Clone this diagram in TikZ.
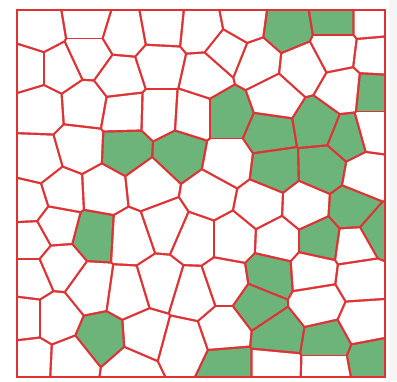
\documentclass[tikz,border=0pt]{standalone}
\usepackage{tikz}
\definecolor{cellred}{HTML}{DE3234}
\definecolor{cellgreen}{HTML}{6DB47B}
\tikzset{
  frame/.style={fill=cellred},
  cellw/.style={fill=white},
  cellg/.style={fill=cellgreen},
}
% sites of the cells: x/y/colour (w = white, g = green)
\newcommand\cellsites{
  40/30/w, 88/22/w, 124/33/w, 162/26/w, 202/30/w, 243/22/w, 227/50/w,
  287/28/g, 335/20/g, 372/20/w, 335/50/w, 375/55/w,
  28/68/w, 60/68/w, 88/55/w, 120/78/w, 160/65/w, 205/75/w, 257/62/w,
  303/67/w, 343/90/w, 373/93/g, 275/98/w, 228/115/g, 270/133/g,
  318/125/g, 348/137/g, 373/130/w,
  40/108/w, 85/105/w, 124/112/w, 160/113/w, 192/115/w,
  38/160/w, 80/148/w, 125/150/g, 180/153/g, 228/162/w, 275/168/g,
  322/167/g, 367/175/w,
  28/203/w, 63/192/w, 103/190/w, 150/185/w, 210/195/w, 260/205/w,
  305/207/w, 353/210/g, 378/232/g,
  30/240/w, 57/225/w, 95/235/g, 130/237/w, 165/225/w, 195/238/w,
  233/238/w, 278/240/w, 320/240/g, 355/245/w,
  30/278/w, 60/265/w, 92/288/w, 127/293/w, 160/283/w, 193/293/w,
  225/282/w, 270/275/g, 313/272/w, 360/278/w,
  25/318/w, 55/318/w, 102/338/g, 145/335/w, 182/345/w, 225/330/w,
  258/305/g, 318/303/w, 363/323/w, 278/335/g, 327/343/g,
  30/360/w, 72/362/w, 130/370/w, 228/367/g, 275/367/w, 327/368/w,
  370/360/g}

\begin{document}
\begin{tikzpicture}[x=1pt,y=-1pt]
  \useasboundingbox (0,0) rectangle (397,381);
  \fill[gray!8] (389,0) rectangle (397,381);
  % red frame, the gaps between the cells stay red
  \fill[frame] (15.8,8.8) rectangle (386.2,378.2);
  \foreach \xi/\yi/\c in \cellsites {
    \begin{scope}
      \clip (18.2,11.2) rectangle (383.8,375.8);
      \foreach \xj/\yj/\cj in \cellsites {
        \pgfmathsetmacro\dx{\xj-\xi}
        \pgfmathsetmacro\dy{\yj-\yi}
        \pgfmathsetmacro\dd{veclen(\dx,\dy)}
        \ifdim\dd pt>0.5pt\ifdim\dd pt<130pt
          \pgfmathsetmacro\ux{\dx/\dd}
          \pgfmathsetmacro\uy{\dy/\dd}
          \pgfmathsetmacro\bx{(\xi+\xj)/2-1.2*\ux}
          \pgfmathsetmacro\by{(\yi+\yj)/2-1.2*\uy}
          \clip (\bx-600*\uy,\by+600*\ux) -- ++(-600*\ux,-600*\uy)
            -- ++(1200*\uy,-1200*\ux) -- ++(600*\ux,600*\uy) -- cycle;
        \fi\fi
      }
      \fill[cell\c] (0,0) rectangle (397,381);
    \end{scope}
  }
\end{tikzpicture}
\end{document}
